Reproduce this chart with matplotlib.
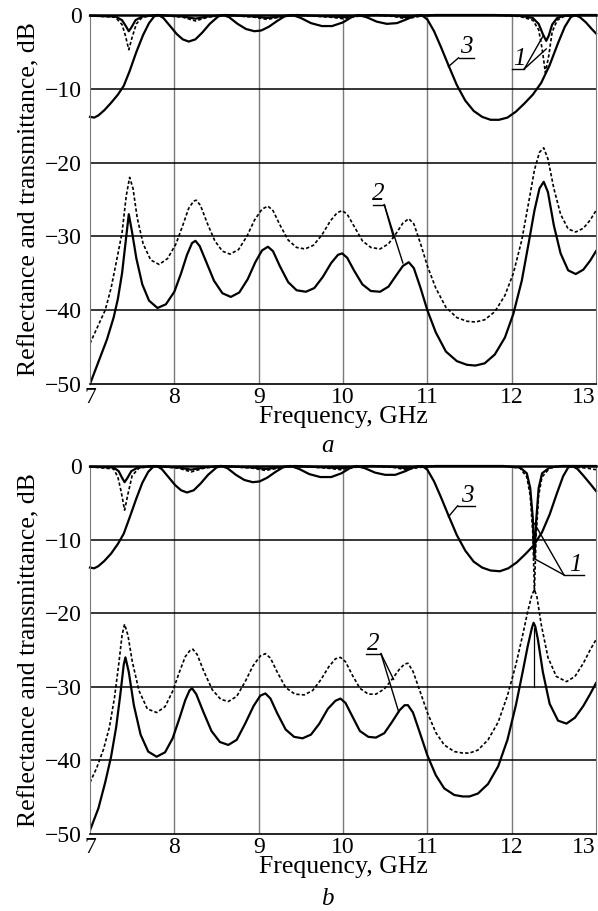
import numpy as np
import matplotlib
matplotlib.use("Agg")
import matplotlib.pyplot as plt

plt.rcParams['font.family'] = ['Liberation Serif', 'DejaVu Serif']

# ---------------- panel a ----------------
# curve 1 (near 0 dB), solid and dotted
a1s_x = [7.00, 7.30, 7.38, 7.43, 7.46, 7.49, 7.54, 7.62, 7.80, 8.10, 8.25, 8.40, 8.60, 8.95, 9.10, 9.25, 9.45,
         9.85, 10.00, 10.15, 10.40, 10.60, 10.75, 10.90, 11.10, 11.80, 12.10, 12.25, 12.32, 12.37, 12.41, 12.44,
         12.48, 12.54, 12.62, 12.80, 13.00]
a1s_y = [-0.1, -0.2, -0.7, -1.6, -2.2, -1.7, -0.7, -0.2, 0.0, -0.2, -0.5, -0.2, 0.0, -0.2, -0.4, -0.2, 0.0,
         -0.2, -0.3, -0.1, 0.0, -0.1, -0.3, -0.1, 0.0, 0.0, -0.1, -0.4, -1.2, -2.6, -3.5, -2.8,
         -1.3, -0.4, -0.1, 0.0, 0.0]
a1d_x = [7.00, 7.30, 7.38, 7.42, 7.46, 7.50, 7.55, 7.62, 7.80, 8.10, 8.25, 8.40, 8.60, 8.95, 9.10, 9.25, 9.45,
         9.85, 10.00, 10.15, 10.40, 10.60, 10.75, 10.90, 11.10, 11.80, 12.10, 12.25, 12.32, 12.36, 12.40, 12.44,
         12.48, 12.54, 12.62, 12.80, 13.00]
a1d_y = [-0.1, -0.3, -1.3, -2.8, -4.7, -3.0, -1.2, -0.3, 0.0, -0.3, -0.8, -0.3, 0.0, -0.3, -0.6, -0.3, 0.0,
         -0.3, -0.5, -0.2, 0.0, -0.2, -0.5, -0.2, 0.0, 0.0, -0.2, -0.7, -2.0, -4.5, -7.8, -5.5,
         -2.3, -0.7, -0.2, 0.0, 0.0]

# curve 2 (reflectance), solid and dotted
a2s_x = [7.00, 7.10, 7.20, 7.28, 7.33, 7.38, 7.42, 7.46, 7.50, 7.55, 7.62, 7.70, 7.80, 7.90, 8.00, 8.08, 8.15,
         8.21, 8.25, 8.30, 8.38, 8.47, 8.57, 8.67, 8.77, 8.87, 8.96, 9.04, 9.11, 9.17, 9.25, 9.35, 9.45, 9.56,
         9.66, 9.76, 9.86, 9.94, 9.99, 10.05, 10.13, 10.23, 10.33, 10.44, 10.54, 10.63, 10.71, 10.78, 10.84,
         10.92, 11.00, 11.10, 11.22, 11.35, 11.47, 11.57, 11.68, 11.80, 11.92, 12.02, 12.12, 12.20, 12.27,
         12.33, 12.38, 12.43, 12.50, 12.58, 12.67, 12.76, 12.85, 12.93, 13.00]
a2s_y = [-50.0, -47.0, -44.0, -41.0, -38.5, -35.0, -31.0, -27.0, -29.5, -33.0, -36.5, -38.7, -39.7, -39.2,
         -37.5, -35.0, -32.5, -30.9, -30.6, -31.3, -33.5, -36.0, -37.7, -38.2, -37.6, -35.8, -33.5, -31.9,
         -31.4, -32.0, -34.0, -36.2, -37.3, -37.5, -37.0, -35.5, -33.6, -32.5, -32.3, -32.9, -34.6, -36.5,
         -37.4, -37.5, -36.8, -35.3, -34.0, -33.5, -34.3, -37.0, -40.0, -43.0, -45.6, -46.9, -47.4, -47.5,
         -47.2, -46.0, -43.7, -40.5, -36.0, -31.0, -26.5, -23.5, -22.6, -24.0, -28.5, -32.3, -34.6, -35.1,
         -34.5, -33.3, -32.0]
a2d_x = [7.00, 7.10, 7.18, 7.25, 7.32, 7.38, 7.43, 7.47, 7.51, 7.56, 7.63, 7.72, 7.82, 7.92, 8.02, 8.10, 8.17,
         8.23, 8.26, 8.31, 8.39, 8.48, 8.57, 8.66, 8.76, 8.86, 8.95, 9.04, 9.11, 9.17, 9.25, 9.35, 9.45, 9.55,
         9.65, 9.75, 9.85, 9.93, 9.99, 10.05, 10.13, 10.23, 10.33, 10.44, 10.54, 10.63, 10.71, 10.78, 10.84,
         10.92, 11.00, 11.10, 11.22, 11.35, 11.47, 11.57, 11.68, 11.80, 11.92, 12.02, 12.12, 12.20, 12.27,
         12.33, 12.38, 12.43, 12.50, 12.58, 12.67, 12.76, 12.85, 12.93, 13.00]
a2d_y = [-44.5, -42.0, -40.0, -37.0, -33.0, -29.5, -24.5, -22.0, -23.5, -27.5, -31.0, -33.2, -33.8, -33.0,
         -31.0, -28.5, -26.2, -25.2, -25.1, -25.8, -28.2, -30.6, -32.0, -32.4, -31.8, -30.0, -27.8, -26.3,
         -25.9, -26.5, -28.4, -30.5, -31.5, -31.7, -31.2, -29.8, -27.9, -26.8, -26.5, -27.0, -28.6, -30.6,
         -31.5, -31.7, -31.0, -29.6, -28.2, -27.6, -28.3, -31.0, -34.0, -37.0, -39.6, -41.0, -41.5, -41.6,
         -41.3, -40.2, -38.0, -35.0, -30.5, -25.5, -21.0, -18.6, -18.0, -19.5, -23.5, -27.0, -29.0, -29.4,
         -28.9, -27.8, -26.5]

# curve 3
a3_x = [7.00, 7.05, 7.10, 7.17, 7.25, 7.33, 7.40, 7.47, 7.55, 7.63, 7.70, 7.76, 7.81, 7.87, 7.95, 8.03, 8.10,
        8.17, 8.25, 8.33, 8.42, 8.52, 8.58, 8.65, 8.75, 8.85, 8.95, 9.03, 9.12, 9.22, 9.32, 9.40, 9.50, 9.62,
        9.75, 9.87, 10.00, 10.10, 10.18, 10.28, 10.40, 10.52, 10.64, 10.75, 10.85, 10.93, 11.00, 11.08, 11.16,
        11.25, 11.35, 11.45, 11.55, 11.65, 11.75, 11.85, 11.95, 12.05, 12.15, 12.25, 12.35, 12.45, 12.55,
        12.63, 12.70, 12.75, 12.81, 12.88, 12.95, 13.00]
a3_y = [-13.8, -13.9, -13.6, -12.9, -11.9, -10.8, -9.6, -7.6, -5.0, -2.7, -1.1, -0.2, 0.0, -0.4, -1.5, -2.6,
        -3.3, -3.6, -3.3, -2.4, -1.2, -0.2, 0.0, -0.3, -1.2, -1.9, -2.2, -2.1, -1.6, -0.8, -0.1, 0.0, -0.4,
        -1.1, -1.5, -1.5, -1.0, -0.3, 0.0, -0.3, -0.9, -1.2, -1.1, -0.6, -0.1, 0.0, -0.6, -2.2, -4.3, -6.8,
        -9.5, -11.6, -13.0, -13.8, -14.2, -14.2, -13.9, -13.1, -12.0, -10.8, -9.2, -6.8, -3.8, -1.6, -0.3,
        0.0, -0.3, -1.0, -1.9, -2.5]

# ---------------- panel b ----------------
b1s_x = [7.00, 7.28, 7.34, 7.38, 7.41, 7.44, 7.49, 7.57, 7.75, 8.05, 8.20, 8.35, 8.55, 8.93, 9.08, 9.23, 9.43,
         9.82, 9.97, 10.12, 10.35, 10.60, 10.75, 10.90, 11.10, 11.90, 12.10, 12.18, 12.22, 12.25, 12.27, 12.29,
         12.32, 12.36, 12.45, 12.60, 13.00]
b1s_y = [-0.1, -0.2, -0.7, -1.6, -2.2, -1.7, -0.7, -0.2, 0.0, -0.2, -0.5, -0.2, 0.0, -0.2, -0.4, -0.2, 0.0,
         -0.2, -0.3, -0.1, 0.0, -0.1, -0.3, -0.1, 0.0, 0.0, -0.2, -1.0, -3.0, -7.0, -12.5, -7.5,
         -3.0, -1.0, -0.2, 0.0, 0.0]
b1d_x = [7.00, 7.28, 7.33, 7.37, 7.41, 7.45, 7.50, 7.58, 7.75, 8.05, 8.20, 8.35, 8.55, 8.93, 9.08, 9.23, 9.43,
         9.82, 9.97, 10.12, 10.35, 10.60, 10.75, 10.90, 11.10, 11.90, 12.10, 12.18, 12.22, 12.25, 12.27, 12.29,
         12.32, 12.36, 12.45, 12.60, 12.90, 13.00]
b1d_y = [-0.1, -0.4, -1.5, -3.5, -6.0, -3.8, -1.3, -0.3, 0.0, -0.3, -0.8, -0.3, 0.0, -0.3, -0.6, -0.3, 0.0,
         -0.3, -0.5, -0.2, 0.0, -0.2, -0.5, -0.2, 0.0, 0.0, -0.3, -1.5, -4.0, -9.0, -17.0, -9.5,
         -4.0, -1.5, -0.3, 0.0, -0.3, -0.5]

b2s_x = [7.00, 7.10, 7.18, 7.25, 7.31, 7.36, 7.40, 7.42, 7.46, 7.52, 7.60, 7.69, 7.79, 7.89, 7.98, 8.06, 8.13,
         8.18, 8.21, 8.26, 8.34, 8.44, 8.54, 8.64, 8.74, 8.84, 8.94, 9.02, 9.08, 9.14, 9.22, 9.32, 9.42, 9.52,
         9.62, 9.72, 9.82, 9.91, 9.97, 10.03, 10.11, 10.20, 10.30, 10.39, 10.49, 10.58, 10.67, 10.73, 10.77,
         10.83, 10.91, 11.00, 11.10, 11.20, 11.32, 11.42, 11.50, 11.60, 11.72, 11.84, 11.95, 12.05, 12.13,
         12.19, 12.24, 12.26, 12.28, 12.31, 12.37, 12.45, 12.55, 12.65, 12.75, 12.85, 12.93, 13.00]
b2s_y = [-49.5, -46.5, -43.0, -39.5, -35.5, -31.0, -27.0, -26.0, -28.0, -32.5, -36.5, -38.8, -39.5, -38.9,
         -37.0, -34.3, -31.8, -30.5, -30.2, -31.0, -33.3, -36.0, -37.5, -37.9, -37.2, -35.0, -32.6, -31.2,
         -30.9, -31.6, -33.6, -35.8, -36.8, -37.0, -36.5, -35.0, -33.0, -31.9, -31.6, -32.2, -34.0, -36.0,
         -36.8, -36.9, -36.3, -34.8, -33.2, -32.5, -32.5, -33.5, -36.2, -39.3, -42.0, -43.8, -44.7, -44.9,
         -44.9, -44.5, -43.2, -40.8, -37.2, -32.5, -28.0, -24.5, -22.0, -21.3, -21.8, -23.5, -28.0,
         -32.3, -34.6, -35.0, -34.2, -32.6, -31.0, -29.5]
# thin vertical artefact under the sharp solid peak at 12.27 GHz in panel b
b2_spike_x = [12.27, 12.27]
b2_spike_y = [-22.0, -30.0]

b2d_x = [7.00, 7.08, 7.16, 7.23, 7.29, 7.34, 7.38, 7.41, 7.45, 7.50, 7.58, 7.68, 7.79, 7.89, 7.98, 8.06, 8.13,
         8.19, 8.22, 8.27, 8.35, 8.45, 8.55, 8.64, 8.74, 8.84, 8.93, 9.02, 9.08, 9.14, 9.22, 9.32, 9.43, 9.54,
         9.64, 9.74, 9.83, 9.91, 9.97, 10.03, 10.11, 10.20, 10.30, 10.39, 10.49, 10.58, 10.67, 10.73, 10.77,
         10.83, 10.91, 11.00, 11.10, 11.20, 11.32, 11.42, 11.50, 11.60, 11.72, 11.84, 11.95, 12.05, 12.13,
         12.19, 12.24, 12.27, 12.30, 12.35, 12.43, 12.53, 12.65, 12.75, 12.85, 12.93, 13.00]
b2d_y = [-43.0, -41.0, -38.5, -35.5, -31.5, -27.0, -23.0, -21.5, -23.0, -26.5, -30.5, -33.0, -33.5, -32.7,
         -30.6, -28.0, -25.9, -25.0, -24.9, -25.6, -27.9, -30.4, -31.7, -32.0, -31.3, -29.3, -27.2, -25.8,
         -25.5, -26.1, -28.0, -30.1, -31.0, -31.1, -30.5, -29.0, -27.3, -26.2, -26.0, -26.6, -28.4, -30.2,
         -31.0, -31.0, -30.3, -29.0, -27.6, -26.9, -26.8, -27.9, -30.5, -33.5, -36.2, -37.9, -38.8, -39.0,
         -39.0, -38.6, -37.2, -34.8, -31.2, -27.0, -23.0, -19.8, -17.5, -16.8, -17.8, -21.5, -26.0, -28.6,
         -29.3, -28.6, -26.8, -25.0, -23.6]

b3_x = [7.00, 7.05, 7.10, 7.17, 7.25, 7.33, 7.40, 7.47, 7.55, 7.62, 7.69, 7.75, 7.79, 7.85, 7.93, 8.01, 8.08,
        8.15, 8.23, 8.31, 8.40, 8.50, 8.56, 8.63, 8.73, 8.83, 8.93, 9.01, 9.10, 9.20, 9.30, 9.38, 9.48, 9.60,
        9.73, 9.86, 9.98, 10.08, 10.16, 10.26, 10.38, 10.50, 10.62, 10.74, 10.85, 10.94, 11.00, 11.08, 11.16,
        11.25, 11.35, 11.45, 11.55, 11.65, 11.75, 11.86, 11.96, 12.06, 12.16, 12.26, 12.36, 12.45, 12.54,
        12.61, 12.67, 12.72, 12.78, 12.85, 12.93, 13.00]
b3_y = [-13.8, -13.9, -13.6, -12.9, -11.9, -10.6, -9.2, -7.0, -4.4, -2.3, -0.8, -0.1, 0.0, -0.4, -1.5, -2.6,
        -3.3, -3.6, -3.3, -2.4, -1.2, -0.2, 0.0, -0.3, -1.2, -1.9, -2.2, -2.1, -1.6, -0.8, -0.1, 0.0, -0.4,
        -1.1, -1.5, -1.5, -1.0, -0.3, 0.0, -0.3, -0.9, -1.2, -1.2, -0.7, -0.1, 0.0, -0.5, -2.1, -4.2, -6.7,
        -9.4, -11.5, -13.0, -13.8, -14.2, -14.3, -13.9, -13.1, -12.0, -10.8, -9.0, -6.6, -3.6, -1.4, -0.2,
        0.0, -0.4, -1.3, -2.4, -3.4]

# curve labels: (text, text position, underline x0, x1, y, leader start, leader targets)
a_labels = [
    ("3", (11.46, -4.3), (11.37, 11.55, -5.8), (11.37, -5.8), [(11.25, -7.0)]),
    ("1", (12.09, -5.9), (12.00, 12.15, -7.3), (12.15, -7.3), [(12.37, -2.9), (12.41, -4.6)]),
    ("2", (10.42, -24.3), (10.35, 10.49, -25.7), (10.49, -25.7), [(10.60, -30.2), (10.71, -33.6)]),
]
b_labels = [
    ("3", (11.47, -4.1), (11.36, 11.56, -5.4), (11.36, -5.4), [(11.25, -6.9)]),
    ("1", (12.76, -13.4), (12.62, 12.86, -14.8), (12.62, -14.8), [(12.27, -7.8), (12.27, -12.6)]),
    ("2", (10.36, -24.2), (10.27, 10.45, -25.5), (10.45, -25.5), [(10.60, -29.0), (10.66, -33.4)]),
]

xticks = [7, 8, 9, 10, 11, 12, 13]
yticks = [0, -10, -20, -30, -40, -50]

fig = plt.figure(figsize=(5.98, 9.11), dpi=100)
ax_a = fig.add_axes([90/598, 1-384/911, 506/598, 369/911])
ax_b = fig.add_axes([90/598, 1-834/911, 506/598, 368/911])

dash = (0, (2.0, 1.3))


def style(ax):
    ax.set_xlim(7, 13)
    ax.set_ylim(-50, 0)
    ax.set_xticks(xticks)
    ax.set_yticks(yticks)
    ax.tick_params(length=0, labelsize=17)
    ax.tick_params(axis='x', pad=2)
    ax.tick_params(axis='y', pad=6)
    # last x tick label sits inside the figure edge
    last = ax.get_xticklabels()[-1]
    last.set_horizontalalignment('right')
    for x in xticks[1:-1]:
        ax.axvline(x, color='#7a7a7a', lw=1.0, zorder=0)
    for y in yticks[1:-1]:
        ax.axhline(y, color='black', lw=1.1, zorder=0)
    ax.spines['top'].set_color('black')
    ax.spines['top'].set_linewidth(1.8)
    ax.spines['bottom'].set_color('black')
    ax.spines['bottom'].set_linewidth(1.2)
    ax.spines['left'].set_color('#7a7a7a')
    ax.spines['right'].set_color('#7a7a7a')
    ax.set_ylabel("Reflectance and transmittance, dB", fontsize=18.5, labelpad=3)
    ax.set_xlabel("Frequency, GHz", fontsize=18.5, labelpad=-1)


def curves(ax, s1x, s1y, d1x, d1y, s2x, s2y, d2x, d2y, c3x, c3y):
    ax.plot(d1x, d1y, color='black', lw=1.2, ls=dash, clip_on=False)
    ax.plot(s1x, s1y, color='black', lw=1.6, clip_on=False)
    ax.plot(d2x, d2y, color='black', lw=1.2, ls=dash)
    ax.plot(s2x, s2y, color='black', lw=1.6)
    ax.plot(c3x, c3y, color='black', lw=1.6, clip_on=False)


def labels(ax, items):
    for txt, pos, ul, start, targets in items:
        ax.text(pos[0], pos[1], txt, fontsize=18, style='italic', ha='center', va='center')
        ax.plot([ul[0], ul[1]], [ul[2], ul[2]], color='black', lw=1.0)
        for t in targets:
            ax.plot([start[0], t[0]], [start[1], t[1]], color='black', lw=1.0)


style(ax_a)
curves(ax_a, a1s_x, a1s_y, a1d_x, a1d_y, a2s_x, a2s_y, a2d_x, a2d_y, a3_x, a3_y)
labels(ax_a, a_labels)

style(ax_b)
curves(ax_b, b1s_x, b1s_y, b1d_x, b1d_y, b2s_x, b2s_y, b2d_x, b2d_y, b3_x, b3_y)
ax_b.plot(b2_spike_x, b2_spike_y, color='black', lw=0.9)
labels(ax_b, b_labels)

fig.text(327/598, 1-446/911, "a", fontsize=18, style='italic', ha='center', va='center')
fig.text(327/598, 1-899/911, "b", fontsize=18, style='italic', ha='center', va='center')

fig.savefig("out.png", dpi=100)
